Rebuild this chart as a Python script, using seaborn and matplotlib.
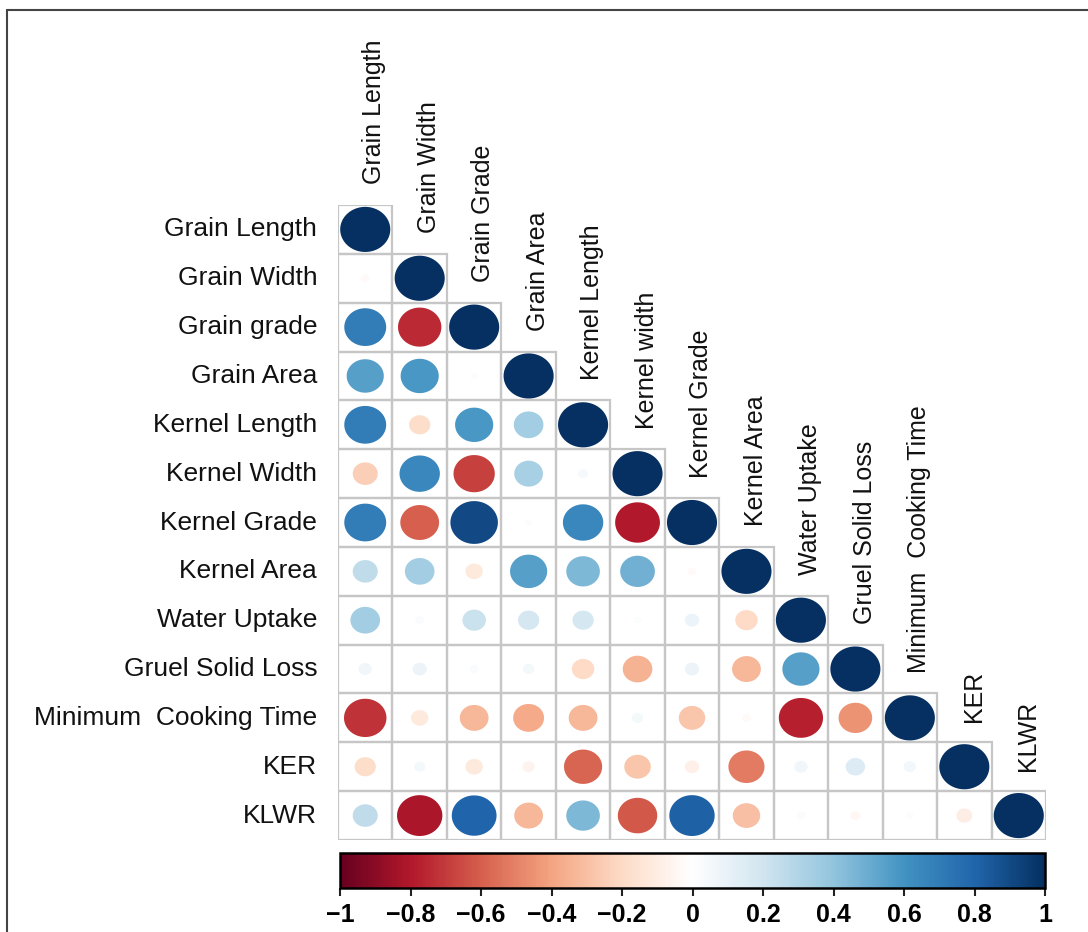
import numpy as np
import pandas as pd
import matplotlib
matplotlib.use("Agg")
import matplotlib.pyplot as plt
from matplotlib.colors import LinearSegmentedColormap, ListedColormap, Normalize
from matplotlib.markers import MarkerStyle
from matplotlib.path import Path
from matplotlib.lines import Line2D
from matplotlib.patches import Rectangle
import matplotlib.cm as cm
import seaborn as sns

# ---------------- data ----------------
row_labels = ["Grain Length", "Grain Width", "Grain grade", "Grain Area", "Kernel Length",
              "Kernel Width", "Kernel Grade", "Kernel Area", "Water Uptake", "Gruel Solid Loss",
              "Minimum  Cooking Time", "KER", "KLWR"]
col_labels = ["Grain Length", "Grain Width", "Grain Grade", "Grain Area", "Kernel Length",
              "Kernel width", "Kernel Grade", "Kernel Area", "Water Uptake", "Gruel Solid Loss",
              "Minimum  Cooking Time", "KER", "KLWR"]

corr_rows = [
    [1.00],
    [-0.03, 1.00],
    [0.70, -0.75, 1.00],
    [0.55, 0.58, 0.02, 1.00],
    [0.70, -0.18, 0.58, 0.35, 1.00],
    [-0.25, 0.65, -0.68, 0.33, 0.04, 1.00],
    [0.70, -0.60, 0.90, 0.02, 0.65, -0.80, 1.00],
    [0.25, 0.35, -0.12, 0.55, 0.45, 0.48, -0.03, 1.00],
    [0.35, 0.03, 0.22, 0.18, 0.18, 0.02, 0.08, -0.20, 1.00],
    [0.07, 0.08, 0.03, 0.05, -0.20, -0.35, 0.08, -0.33, 0.55, 1.00],
    [-0.72, -0.12, -0.33, -0.38, -0.33, 0.05, -0.28, -0.03, -0.78, -0.45, 1.00],
    [-0.18, 0.05, -0.12, -0.06, -0.58, -0.28, -0.08, -0.52, 0.07, 0.15, 0.06, 1.00],
    [0.25, -0.82, 0.80, -0.33, 0.45, -0.62, 0.82, -0.30, 0.03, -0.04, 0.02, -0.10, 1.00],
]

cbar_ticks = [-1, -0.8, -0.6, -0.4, -0.2, 0, 0.2, 0.4, 0.6, 0.8, 1]
cbar_ticklabels = ["\u22121", "\u22120.8", "\u22120.6", "\u22120.4", "\u22120.2", "0",
                   "0.2", "0.4", "0.6", "0.8", "1"]

rdbu_colors = ["#67001F", "#B2182B", "#D6604D", "#F4A582", "#FDDBC7", "#FFFFFF",
               "#D1E5F0", "#92C5DE", "#4393C3", "#2166AC", "#053061"]

# ---------------- style ----------------
sns.set_style("white")
plt.rcParams["font.family"] = ["Liberation Sans", "DejaVu Sans"]

n = len(row_labels)
cmap = LinearSegmentedColormap.from_list("corrRdBu", rdbu_colors, N=256)
norm = Normalize(-1, 1)

recs = []
for i, row in enumerate(corr_rows):
    for j, v in enumerate(row):
        recs.append({"x": j + 0.5, "y": i + 0.5, "r": v, "absr": abs(v)})
df = pd.DataFrame(recs)

W, H = 1088, 932
fig = plt.figure(figsize=(W / 100, H / 100), dpi=100)
ax = fig.add_axes([338 / W, 1 - 840 / H, 708 / W, 635 / H])

grid = np.zeros((n, n))
mask = np.triu(np.ones((n, n), dtype=bool), k=1)
sns.heatmap(grid, mask=mask, cmap=ListedColormap(["white"]), cbar=False,
            linewidths=0, xticklabels=False, yticklabels=row_labels, ax=ax)

# cell borders of the lower triangle only
for i, row in enumerate(corr_rows):
    for j in range(len(row)):
        ax.add_patch(Rectangle((j, i), 1, 1, fill=False, edgecolor="#c6c6c6",
                               linewidth=1.6, zorder=2))

# ellipse marker (image is stretched horizontally)
t = np.linspace(0, 2 * np.pi, 100)
ell = Path(np.column_stack([1.11 * np.cos(t), np.sin(t)]), closed=True)
marker = MarkerStyle(ell)

sns.scatterplot(data=df, x="x", y="y", hue="r", palette=cmap, hue_norm=(-1, 1),
                size="absr", sizes=(0, 1300), size_norm=(0, 1), marker=marker,
                linewidth=0, legend=False, ax=ax, zorder=3)

ax.set_xlim(0, n)
ax.set_ylim(n, 0)
ax.set_xlabel("")
ax.set_ylabel("")
ax.tick_params(axis="y", length=0, pad=15, labelsize=19, rotation=0)
for lab in ax.get_yticklabels():
    lab.set_color("#111111")
for s in ax.spines.values():
    s.set_visible(False)

for j, lab in enumerate(col_labels):
    ax.text(j + 0.67, j - 0.42, lab, rotation=90, ha="center", va="bottom",
            fontsize=18, color="#111111", clip_on=False)

# colorbar
cax = fig.add_axes([340 / W, 1 - 888 / H, 705 / W, 35 / H])
sm = cm.ScalarMappable(norm=norm, cmap=cmap)
cb = fig.colorbar(sm, cax=cax, orientation="horizontal", ticks=cbar_ticks)
cb.ax.set_xticklabels(cbar_ticklabels, fontsize=18, fontweight="bold", color="black")
cb.outline.set_linewidth(1.8)
cb.outline.set_edgecolor("black")
cb.ax.tick_params(axis="x", direction="out", length=6, width=1.5, color="#222222", pad=5,
                  labelcolor="black")

# figure frame (top and left)
fig.add_artist(Line2D([7 / W, 7 / W], [0, 1 - 10 / H], transform=fig.transFigure,
                      color="#444444", lw=1.5))
fig.add_artist(Line2D([7 / W, 1], [1 - 10 / H, 1 - 10 / H], transform=fig.transFigure,
                      color="#444444", lw=1.5))

fig.savefig("out.png", dpi=100, facecolor="white")
